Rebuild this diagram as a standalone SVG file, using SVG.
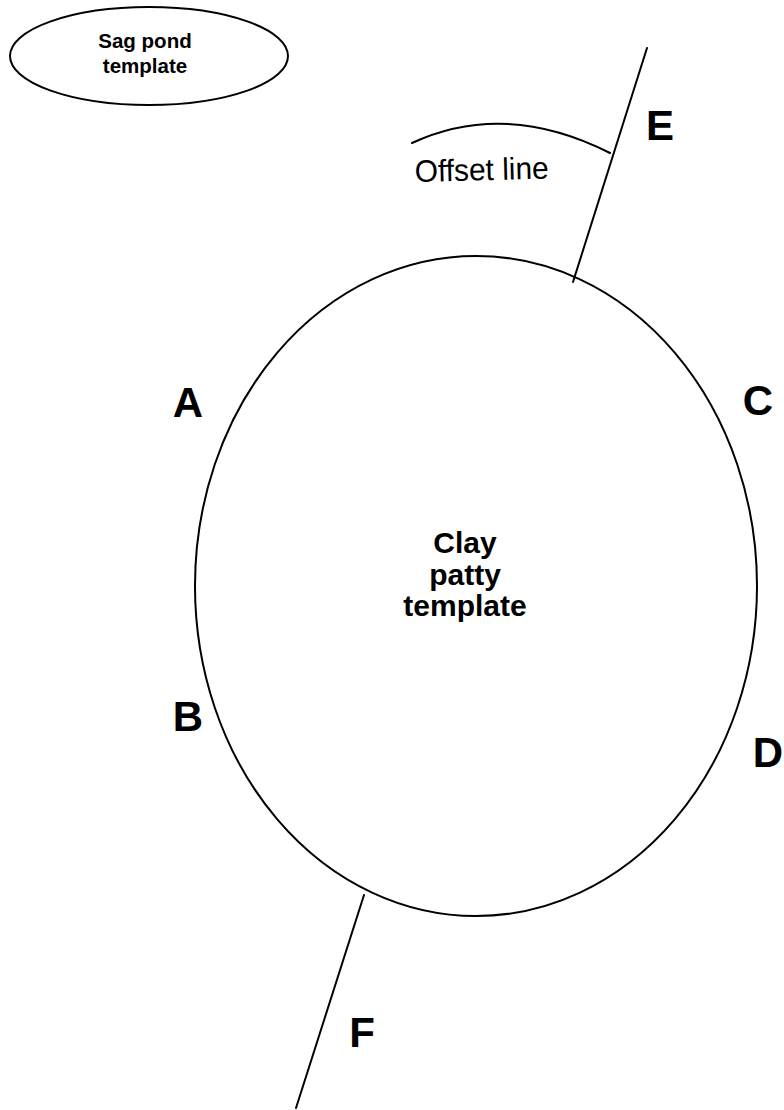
<svg xmlns="http://www.w3.org/2000/svg" width="784" height="1110" viewBox="0 0 784 1110">
<style>
.shape{fill:none;stroke:#000;stroke-width:2}
.ln{fill:none;stroke:#000;stroke-width:2;stroke-linecap:round}
.lbl{font-family:"Liberation Sans",Arial,sans-serif;font-weight:bold;font-size:42px;fill:#000;text-anchor:middle}
.nt{font-family:"Liberation Sans",Arial,sans-serif;font-weight:bold;fill:#000;text-anchor:middle}
.reg{font-family:"Liberation Sans",Arial,sans-serif;fill:#000}
</style>
<rect width="784" height="1110" fill="#fff"/>
<g id="sag-pond">
<ellipse class="shape" cx="149" cy="56" rx="139" ry="49"/>
<text class="nt" font-size="20.5" x="145" y="48">Sag pond</text>
<text class="nt" font-size="20.5" x="145" y="73">template</text>
</g>
<g id="clay-patty">
<ellipse class="shape" cx="476" cy="586" rx="281" ry="330"/>
<text class="nt" font-size="30" x="465" y="553">Clay</text>
<text class="nt" font-size="30" x="465" y="585">patty</text>
<text class="nt" font-size="30" x="465" y="616">template</text>
</g>
<g id="connectors">
<line class="ln" x1="647" y1="48" x2="573" y2="282"/>
<line class="ln" x1="364" y1="895" x2="296" y2="1108"/>
<path id="offset-line" class="ln" d="M412,143 Q505,100 610,153"/>
</g>
<g id="labels">
<text class="reg" font-size="31" x="415" y="182" textLength="134" lengthAdjust="spacingAndGlyphs" transform="rotate(-1.5 415 182)">Offset line</text>
<text class="lbl" x="188" y="417">A</text>
<text class="lbl" x="188" y="731">B</text>
<text class="lbl" x="758" y="415">C</text>
<text class="lbl" x="768" y="767">D</text>
<text class="lbl" x="660" y="140">E</text>
<text class="lbl" x="362" y="1047">F</text>
</g>
</svg>
